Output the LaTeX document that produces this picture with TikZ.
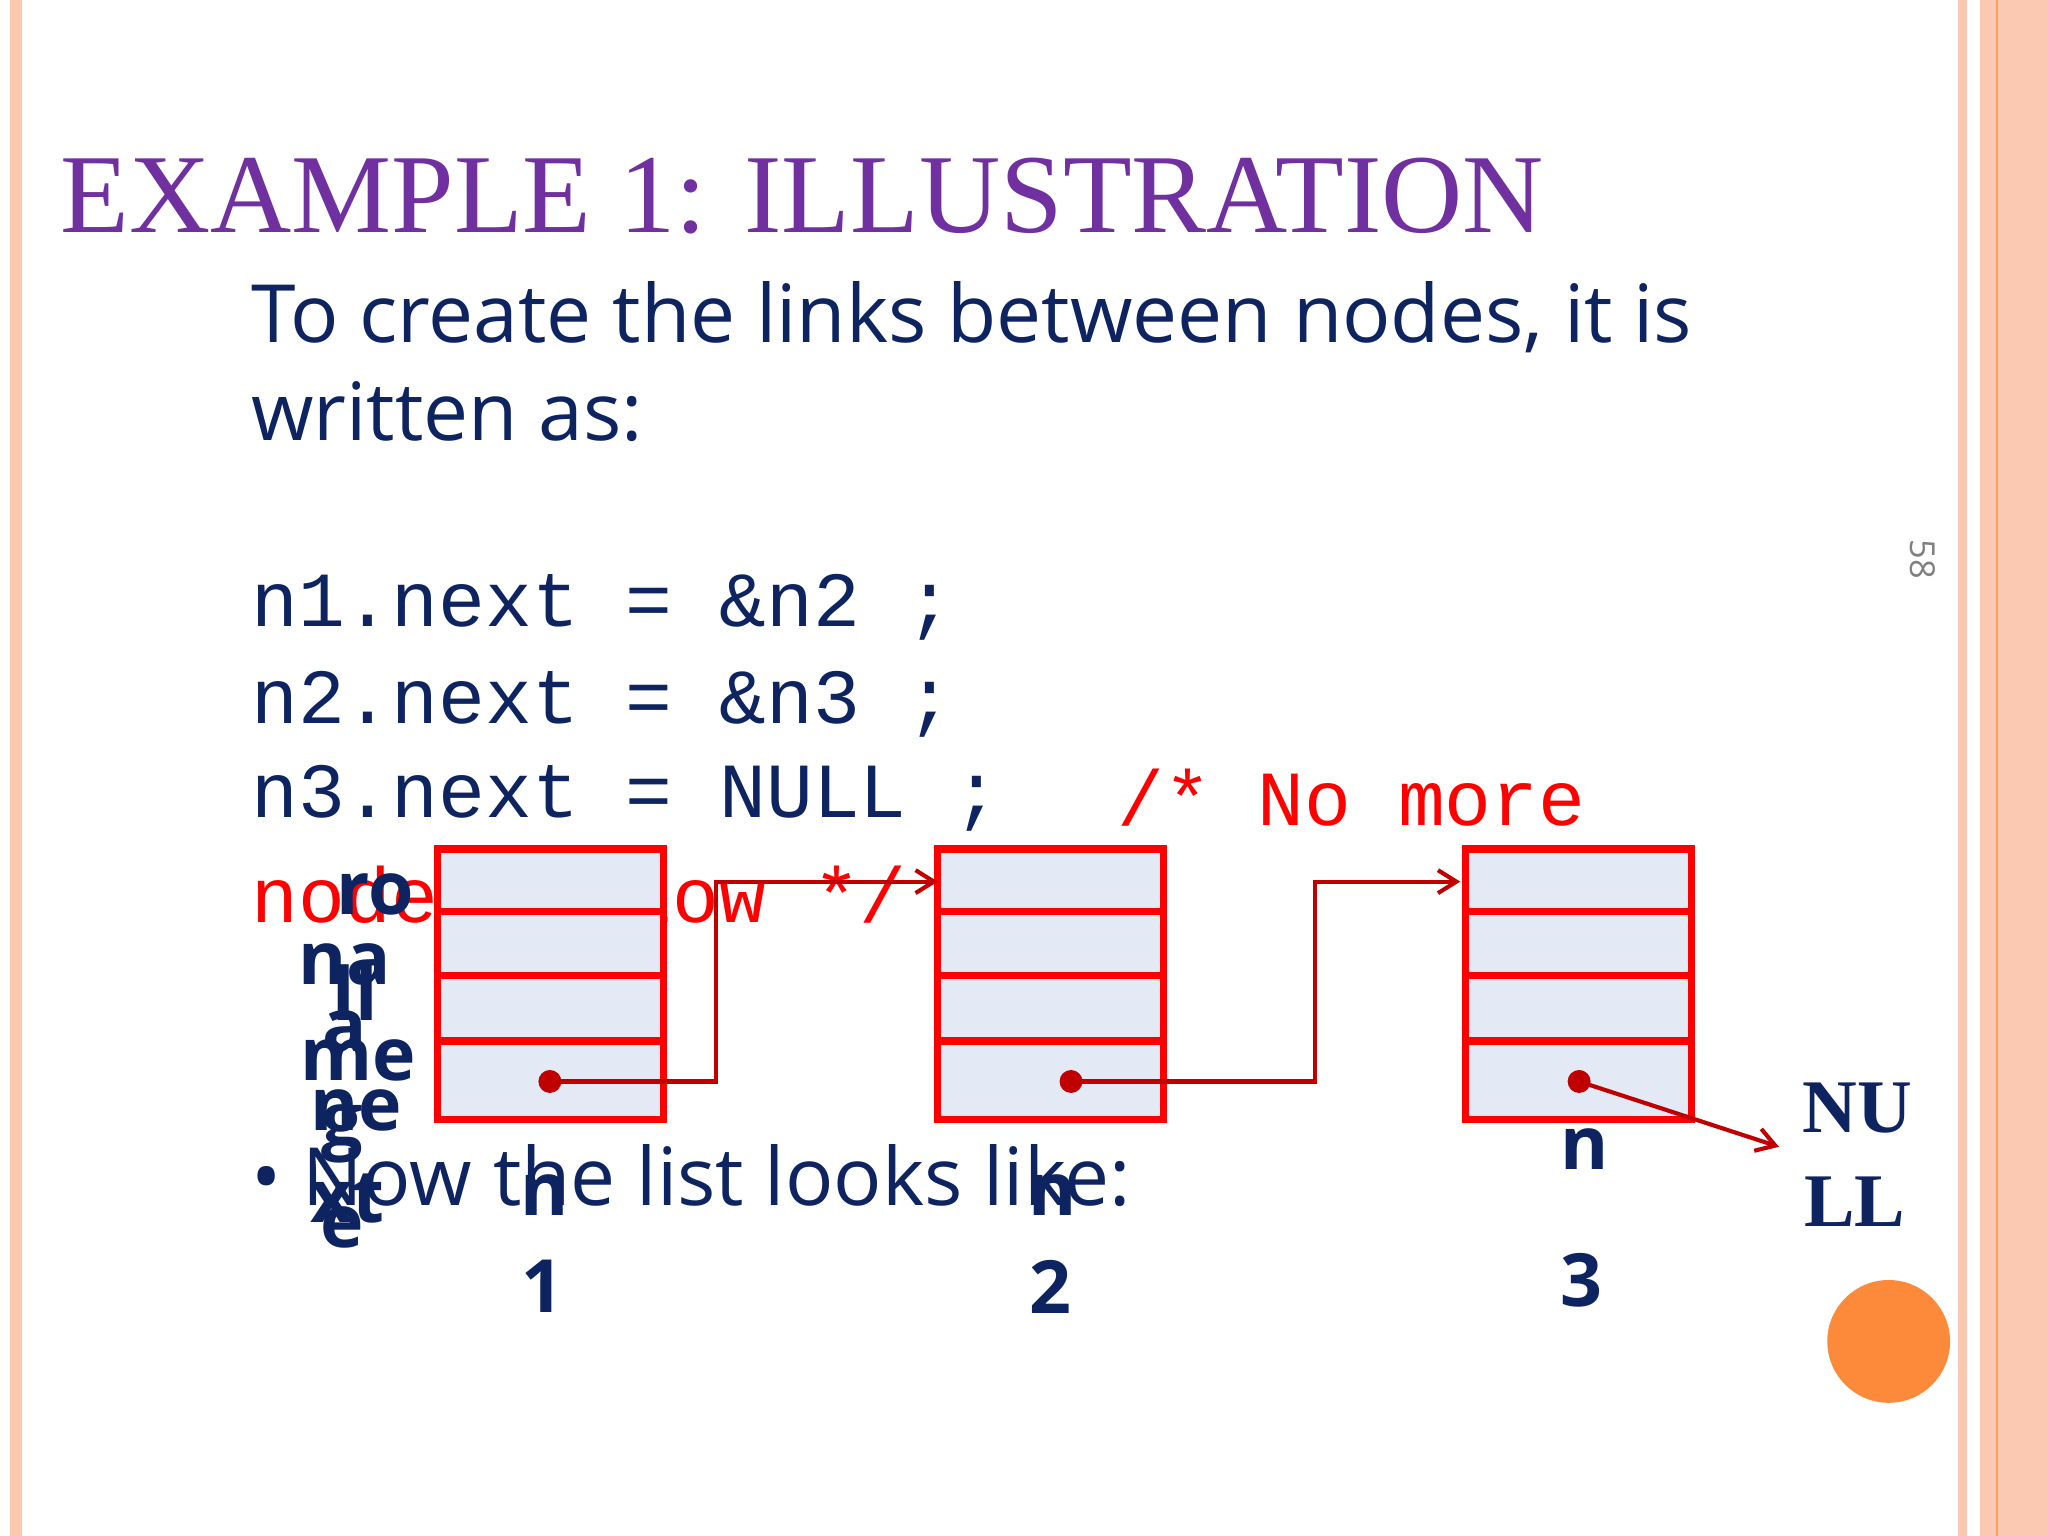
\documentclass[tikz,border=0pt]{standalone}
\usepackage{fontspec}
\setmainfont{Open Sans}
\newfontfamily\serif{Liberation Serif}
\newfontfamily\mono{Liberation Mono}
\usetikzlibrary{arrows.meta}
\definecolor{navy}{HTML}{0E2460}
\definecolor{purp}{HTML}{7030A0}
\definecolor{stripe}{HTML}{FBC8B2}
\definecolor{boxfill}{HTML}{E3EAF6}
\definecolor{dred}{HTML}{C00000}
\definecolor{orng}{HTML}{FD8A3A}
\tikzset{
 px/.style={x=0.02cm,y=-0.02cm},
 lbl/.style={text=navy,font=\fontsize{32}{32}\selectfont\bfseries,inner sep=0pt},
 code/.style={anchor=west,inner sep=0pt,font=\mono\fontsize{34}{34}\selectfont},
 cell/.style={draw=red,line width=3.2pt,fill=boxfill},
 link/.style={draw=dred,line width=1.8pt,-{Straight Barb[length=8pt,width=10pt]}},
 dotst/.style={circle,fill=dred,inner sep=0pt,minimum size=10pt}
}
\begin{document}
\begin{tikzpicture}[px]
\useasboundingbox (0,0) rectangle (1568,1176);
\fill[white] (0,0) rectangle (1568,1176);
\fill[stripe] (8,0) rectangle (17,1176);
\fill[stripe] (1499,0) rectangle (1506,1176);
\fill[stripe] (1516,0) rectangle (1568,1176);
\draw[orng!80,line width=0.6pt] (1529,0) -- (1529,1176);
\node[anchor=west,inner sep=0pt,text=purp,font=\serif\fontsize{49}{49}\selectfont] (title) at (46,150) {EXAMPLE 1: ILLUSTRATION};
\node[anchor=west,inner sep=0pt,text=navy,font=\fontsize{35}{35}\selectfont] (t1) at (192,243) {To create the links between nodes, it is};
\node[anchor=west,inner sep=0pt,text=navy,font=\fontsize{35}{35}\selectfont] (t2) at (192,315) {written as:};
\node[code,text=navy] (c1) at (192,465) {n1.next = \&n2 ;};
\node[code,text=navy] (c2) at (192,539) {n2.next = \&n3 ;};
\node[code,text=navy] (c3) at (192,611) {n3.next = NULL ;};
\node[code,text=red] (c3b) at (855,611) {/* No more};
\node[code,text=red] (c4) at (192,685) {node follow */};
\node[rotate=-90,text=gray,font=\fontsize{15}{15}\selectfont] (pg) at (1472,428) {58};
\node[anchor=west,inner sep=0pt,text=navy,font=\fontsize{35}{35}\selectfont] (bul) at (192,900) {\textbullet\ Now the list looks like:};
% boxes
\foreach \n/\x in {a/335,b/718,c/1122}{
  \draw[cell] (\x,650) rectangle ++(173,48);
  \draw[cell] (\x,698) rectangle ++(173,49);
  \draw[cell] (\x,747) rectangle ++(173,50);
  \draw[cell] (\x,797) rectangle ++(173,60);
}
\node[dotst] (d1) at (421,828) {};
\node[dotst] (d2) at (820,828) {};
\node[dotst] (d3) at (1209,828) {};
\coordinate (e1) at (718,675);
\coordinate (e2) at (1118,675);
\coordinate (e3) at (1362,878);
\draw[link] (d1.center) -- (548,828) -- (548,675) -- (e1);
\draw[link] (d2.center) -- (1007,828) -- (1007,675) -- (e2);
\draw[link] (d3.center) -- (e3);
% overlapping labels
\node[lbl] (l1) at (287,685) {ro};
\node[lbl] (l2) at (264,738) {na};
\node[lbl] (l3) at (272,760) {ll};
\node[lbl] (l4) at (264,790) {a};
\node[lbl] (l5) at (274,812) {me};
\node[lbl] (l6) at (273,850) {ne};
\node[lbl] (l7) at (262,868) {g};
\node[lbl] (l8) at (266,918) {xt};
\node[lbl] (l9) at (262,940) {e};
\node[lbl] (n1a) at (417,915) {n};
\node[lbl] (n1b) at (415,985) {1};
\node[lbl] (n2a) at (806,915) {n};
\node[lbl] (n2b) at (804,985) {2};
\node[lbl] (n3a) at (1213,880) {n};
\node[lbl] (n3b) at (1211,980) {3};
\node[text=navy,inner sep=0pt,font=\serif\bfseries\fontsize{33}{33}\selectfont] (nu) at (1422,848) {NU};
\node[text=navy,inner sep=0pt,font=\serif\bfseries\fontsize{33}{33}\selectfont] (ll) at (1420,920) {LL};
\fill[orng] (1446,1027) circle (47);
\end{tikzpicture}
\end{document}
